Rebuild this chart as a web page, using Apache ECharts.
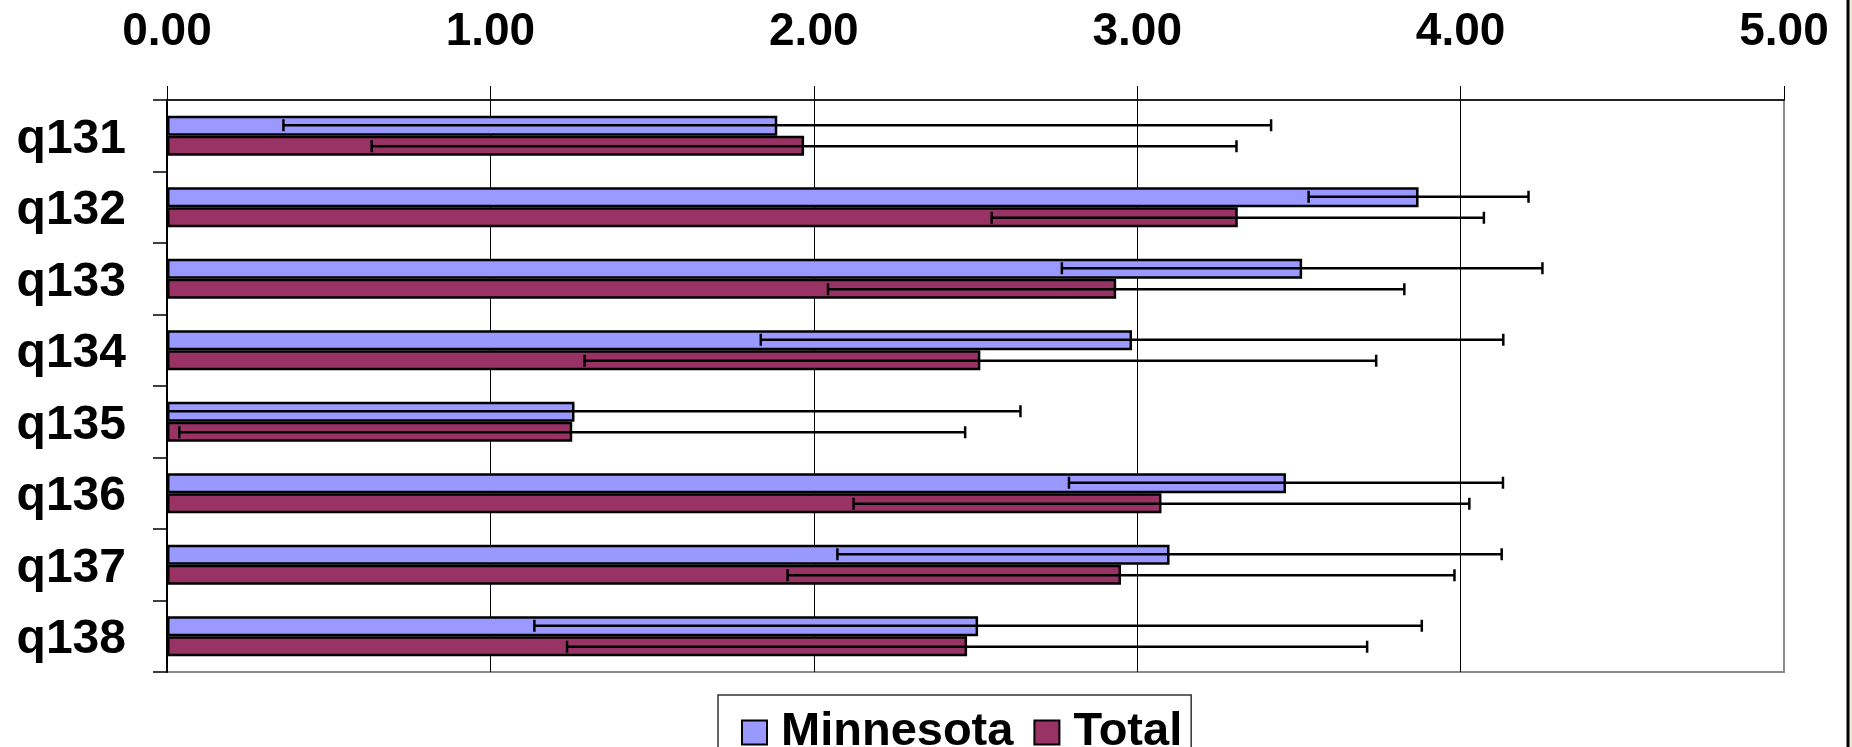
<!DOCTYPE html>
<html>
<head>
<meta charset="utf-8">
<script src="https://cdn.jsdelivr.net/npm/echarts@6/dist/echarts.min.js"></script>
<style>
html,body{margin:0;padding:0;background:#fff;}
#chart{width:1852px;height:747px;}
</style>
</head>
<body>
<div id="chart"></div>
<script>
// ---- data ----
const categories = ['q131','q132','q133','q134','q135','q136','q137','q138'];
const seriesNames = ['Minnesota','Total'];
const minnesotaMean = [1.887, 3.870, 3.510, 2.984, 1.260, 3.460, 3.100, 2.508];
const minnesotaSD   = [1.527, 0.340, 0.743, 1.148, 1.379, 0.671, 1.027, 1.372];
const totalMean     = [1.970, 3.311, 2.935, 2.515, 1.253, 3.075, 2.950, 2.474];
const totalSD       = [1.337, 0.761, 0.891, 1.224, 1.215, 0.952, 1.031, 1.237];
const xTicks = [0, 1, 2, 3, 4, 5];

// ---- styles ----
const FONT = '"Liberation Sans", Arial, sans-serif';
const colors = ['#9999FF', '#993366'];
const BAR_W = 20;
const CAP = 6;

function errData(means, sds) {
  return means.map((m, i) => [i, m - sds[i], m + sds[i]]);
}

function errRender(offset) {
  return function (params, api) {
    const cat = api.value(0);
    const lo = api.value(1), hi = api.value(2);
    const loClipped = lo < xTicks[0];
    const pLo = api.coord([loClipped ? xTicks[0] : lo, cat]);
    const pHi = api.coord([hi, cat]);
    const y = pLo[1] + offset;
    const style = { stroke: '#000', lineWidth: 2.5 };
    const children = [
      { type: 'line', shape: { x1: pLo[0], y1: y, x2: pHi[0], y2: y }, style },
      { type: 'line', shape: { x1: pHi[0], y1: y - CAP, x2: pHi[0], y2: y + CAP }, style }
    ];
    if (!loClipped) {
      children.push({ type: 'line', shape: { x1: pLo[0], y1: y - CAP, x2: pLo[0], y2: y + CAP }, style });
    }
    return { type: 'group', children };
  };
}

const chart = echarts.init(document.getElementById('chart'), null, { renderer: 'canvas' });
const option = {
  animation: false,
  backgroundColor: '#ffffff',
  grid: {
    left: 167, right: 68, top: 100, bottom: 75,
    show: true, borderColor: '#8c8c8c', borderWidth: 2, backgroundColor: 'transparent'
  },
  xAxis: {
    type: 'value',
    position: 'top',
    min: xTicks[0],
    max: xTicks[xTicks.length - 1],
    interval: 1,
    axisLine: { show: true, lineStyle: { color: '#222', width: 2 } },
    axisTick: { show: true, inside: false, length: 14, lineStyle: { color: '#000', width: 1 } },
    splitLine: { show: true, lineStyle: { color: ['#000', '#000', '#000', '#000', '#000', '#8c8c8c'], width: 1 } },
    axisLabel: {
      formatter: v => v.toFixed(2),
      fontFamily: FONT, fontWeight: 'bold', fontSize: 46, color: '#000', margin: 45
    }
  },
  yAxis: {
    type: 'category',
    inverse: true,
    data: categories,
    axisLine: { show: true, lineStyle: { color: '#000', width: 2 } },
    axisTick: { show: true, inside: false, length: 14, lineStyle: { color: '#000', width: 1.5 } },
    axisLabel: {
      margin: 41,
      formatter: v => '{c|' + v + '}',
      rich: {
        c: { fontFamily: FONT, fontWeight: 'bold', fontSize: 48, color: '#000', padding: [8, 0, 0, 0] }
      }
    }
  },
  legend: {
    data: seriesNames,
    left: 718,
    top: 695,
    orient: 'horizontal',
    padding: [14, 9, 20, 23],
    itemGap: 20,
    itemWidth: 25,
    itemHeight: 24,
    borderColor: '#333',
    borderWidth: 1.5,
    icon: 'rect',
    textStyle: { fontFamily: FONT, fontWeight: 'bold', fontSize: 47, color: '#000', padding: [0, 0, 0, 9] },
    itemStyle: { borderColor: '#000', borderWidth: 2 }
  },
  series: [
    {
      name: seriesNames[0], type: 'bar', data: minnesotaMean,
      barWidth: BAR_W, barGap: '0%',
      itemStyle: { color: colors[0], borderColor: '#000', borderWidth: 2.5 }, z: 2
    },
    {
      name: seriesNames[1], type: 'bar', data: totalMean,
      barWidth: BAR_W, barGap: '0%',
      itemStyle: { color: colors[1], borderColor: '#000', borderWidth: 2.5 }, z: 2
    },
    {
      type: 'custom', name: 'errM', renderItem: errRender(-BAR_W / 2 - 0.5),
      data: errData(minnesotaMean, minnesotaSD),
      encode: { y: 0, x: [1, 2] }, z: 5, silent: true
    },
    {
      type: 'custom', name: 'errT', renderItem: errRender(BAR_W / 2 + 0.5),
      data: errData(totalMean, totalSD),
      encode: { y: 0, x: [1, 2] }, z: 5, silent: true
    }
  ],
  graphic: [
    { type: 'rect', shape: { x: 1849, y: 0, width: 3, height: 747 }, style: { fill: '#EFEAD6' }, silent: true },
    { type: 'line', shape: { x1: 1848, y1: 0, x2: 1848, y2: 747 }, style: { stroke: '#000', lineWidth: 3 }, silent: true }
  ]
};
chart.setOption(option);
</script>
</body>
</html>
